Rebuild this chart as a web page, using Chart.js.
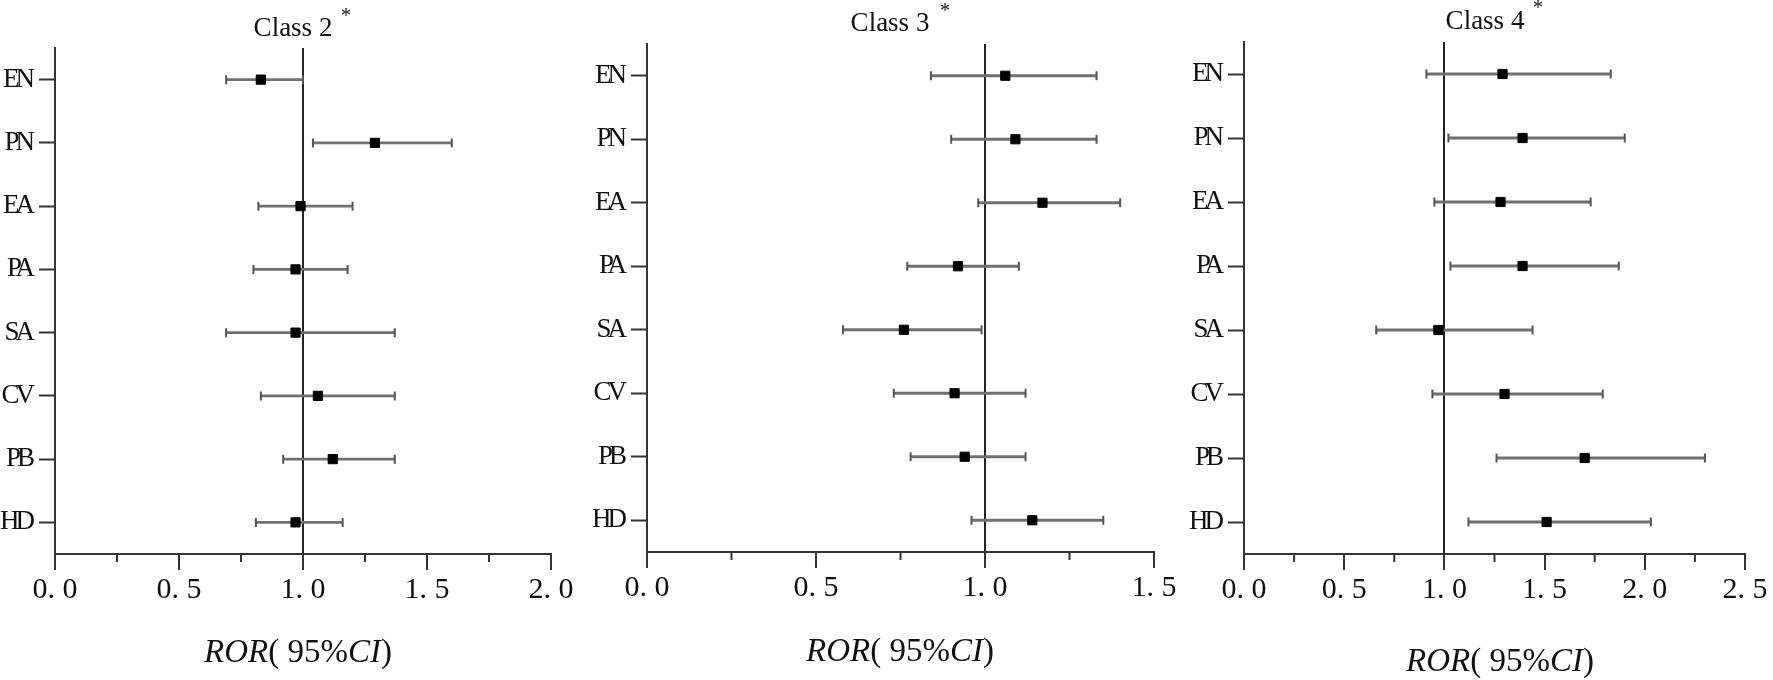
<!DOCTYPE html>
<html>
<head>
<meta charset="utf-8">
<script src="https://cdn.jsdelivr.net/npm/chart.js@4.4.0/dist/chart.umd.min.js"></script>
<style>
  body { margin: 0; background: #fff; width: 1773px; height: 680px; position: relative; overflow: hidden;
         font-family: "Liberation Serif", serif; color: #111; }
  canvas { position: absolute; top: 0; }
  .lbl { position: absolute; transform: translate(-50%, -50%); line-height: 1; white-space: nowrap; }
  .ttl { font-size: 27px; }
  .star { font-size: 20px; }
  .axt { font-size: 33px; }
</style>
</head>
<body>
<canvas id="c2" width="600" height="680" style="left:0px"></canvas>
<canvas id="c3" width="600" height="680" style="left:590px"></canvas>
<canvas id="c4" width="588" height="680" style="left:1185px"></canvas>

<div class="lbl ttl" style="left:293px;top:27px">Class 2</div>
<div class="lbl star" style="left:346px;top:15px">*</div>
<div class="lbl ttl" style="left:890px;top:22px">Class 3</div>
<div class="lbl star" style="left:945px;top:10px">*</div>
<div class="lbl ttl" style="left:1485px;top:20px">Class 4</div>
<div class="lbl star" style="left:1538px;top:7px">*</div>

<div class="lbl axt" style="left:298px;top:651px"><i>ROR</i>( 95%<i>CI</i>)</div>
<div class="lbl axt" style="left:900px;top:650px"><i>ROR</i>( 95%<i>CI</i>)</div>
<div class="lbl axt" style="left:1500px;top:660px"><i>ROR</i>( 95%<i>CI</i>)</div>

<script>
// data
const categories = ["EN", "PN", "EA", "PA", "SA", "CV", "PB", "HD"];

const class2Ror  = [0.83, 1.29, 0.99, 0.97, 0.97, 1.06, 1.12, 0.97];
const class2Low  = [0.69, 1.04, 0.82, 0.80, 0.69, 0.83, 0.92, 0.81];
const class2High = [1.00, 1.60, 1.20, 1.18, 1.37, 1.37, 1.37, 1.16];

const class3Ror  = [1.06, 1.09, 1.17, 0.92, 0.76, 0.91, 0.94, 1.14];
const class3Low  = [0.84, 0.90, 0.98, 0.77, 0.58, 0.73, 0.78, 0.96];
const class3High = [1.33, 1.33, 1.40, 1.10, 0.99, 1.12, 1.12, 1.35];

const class4Ror  = [1.29, 1.39, 1.28, 1.39, 0.97, 1.30, 1.70, 1.51];
const class4Low  = [0.91, 1.02, 0.95, 1.03, 0.66, 0.94, 1.26, 1.12];
const class4High = [1.83, 1.90, 1.73, 1.87, 1.44, 1.79, 2.30, 2.03];

const xMaxes = [2.0, 1.5, 2.5];

const FONT = "'Liberation Serif', serif";
const AXIS = "#333";

// category axis with tighter letters (the original font is a narrow one)
class TightCategory extends Chart.CategoryScale {
  drawLabels(area) {
    const ctx = this.ctx;
    ctx.save();
    ctx.letterSpacing = "-4px";
    super.drawLabels(area);
    ctx.restore();
  }
}
TightCategory.id = "tightCategory";
TightCategory.defaults = Chart.CategoryScale.defaults;
Chart.register(TightCategory);

// short ticks at the quarter marks
const minorTicks = {
  id: "minorTicks",
  afterDraw(chart) {
    const x = chart.scales.x;
    const ctx = chart.ctx;
    const b = chart.chartArea.bottom;
    ctx.save();
    ctx.strokeStyle = AXIS;
    ctx.lineWidth = 2;
    for (let v = 0.25; v < x.max; v += 0.5) {
      const px = x.getPixelForValue(v);
      ctx.beginPath();
      ctx.moveTo(px, b);
      ctx.lineTo(px, b + 8);
      ctx.stroke();
    }
    ctx.restore();
  },
};

function forest(id, ror, low, high, xMax, layout) {
  const pts = ror.map((v, i) => ({ x: v, y: categories[i] }));
  const caps = [];
  low.forEach((v, i) => caps.push({ x: v, y: categories[i] }));
  high.forEach((v, i) => caps.push({ x: v, y: categories[i] }));

  return new Chart(document.getElementById(id), {
    type: "bar",
    data: {
      labels: categories,
      datasets: [
        {
          type: "scatter",
          data: pts,
          order: 0,
          pointStyle: "rect",
          pointRadius: 6.5,
          backgroundColor: "#000",
          borderColor: "#000",
          borderWidth: 1,
        },
        {
          type: "scatter",
          data: caps,
          order: 1,
          pointStyle: "line",
          rotation: 90,
          pointRadius: 4.5,
          borderColor: "#555",
          borderWidth: 2,
        },
        {
          type: "bar",
          data: low.map((v, i) => [v, high[i]]),
          order: 2,
          barThickness: 2.2,
          backgroundColor: "#707070",
          borderWidth: 0,
        },
      ],
    },
    options: {
      responsive: false,
      animation: false,
      indexAxis: "y",
      layout: { padding: { top: layout.top, right: layout.right, bottom: 0, left: 0 } },
      plugins: { legend: { display: false }, tooltip: { enabled: false } },
      scales: {
        x: {
          type: "linear",
          min: 0,
          max: xMax,
          afterFit: (s) => { s.height = layout.xH; },
          ticks: {
            stepSize: 0.5,
            padding: 2,
            color: "#111",
            font: { family: FONT, size: 30 },
            callback: (v) => v.toFixed(1).replace(".", ". "),
          },
          grid: {
            drawOnChartArea: true,
            color: (c) => (c.tick && Math.abs(c.tick.value - 1) < 1e-9 ? "#222" : "rgba(0,0,0,0)"),
            lineWidth: 2,
            tickLength: 16,
            tickWidth: 2,
            tickColor: AXIS,
          },
          border: { color: AXIS, width: 2 },
        },
        y: {
          type: "tightCategory",
          offset: true,
          afterFit: (s) => { s.width = layout.yW; },
          ticks: { color: "#111", padding: 8, font: { family: FONT, size: 27 } },
          grid: { offset: false, drawOnChartArea: false, tickLength: 16, tickWidth: 2, tickColor: AXIS },
          border: { color: AXIS, width: 2 },
        },
      },
    },
    plugins: [minorTicks],
  });
}

forest("c2", class2Ror, class2Low, class2High, xMaxes[0], { top: 48, right: 49, yW: 55, xH: 126 });
forest("c3", class3Ror, class3Low, class3High, xMaxes[1], { top: 44, right: 36, yW: 57, xH: 128 });
forest("c4", class4Ror, class4Low, class4High, xMaxes[2], { top: 42, right: 28, yW: 59, xH: 126 });
</script>
</body>
</html>
